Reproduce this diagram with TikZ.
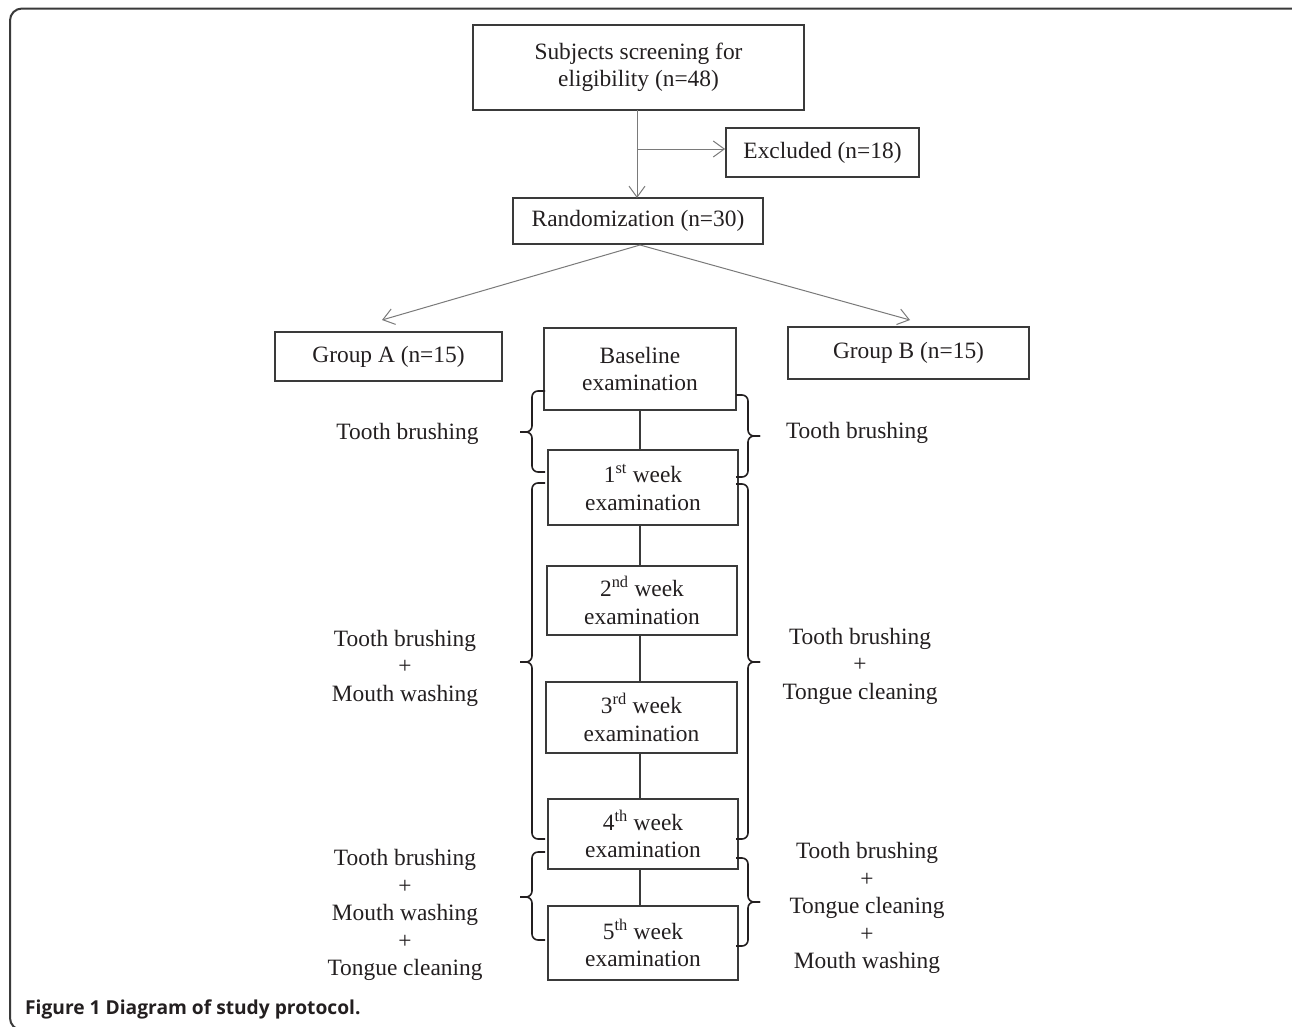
\documentclass[tikz,border=0pt]{standalone}
\usepackage{fontspec}
\setmainfont{Liberation Serif}
\newfontfamily\capfont{Open Sans}
\usetikzlibrary{arrows.meta,calc}
\definecolor{txt}{HTML}{231F20}
\definecolor{boxc}{HTML}{3A3A3A}
\definecolor{arrc}{HTML}{7A7A7A}
\tikzset{
  every node/.style={text=txt},
  mainfont/.style={font=\fontsize{23.4}{27.5}\selectfont},
  box/.style={draw=boxc, line width=1.2pt, mainfont, align=center, inner sep=0pt},
  boxb/.style={box, line width=1.8pt},
  lbl/.style={mainfont, align=center, inner sep=0pt},
  arr/.style={draw=arrc, line width=1pt, -{Straight Barb[length=11pt,width=16pt,line width=1pt]}},
  link/.style={draw=boxc, line width=1.1pt},
  bracestyle/.style={draw=txt, line width=1.6pt, rounded corners=6pt},
}
\newcommand{\braceLeft}[3]{%
  \draw[bracestyle] (545,#1) -- (532,#1) -- (532,#3) -- (520,#3);
  \draw[bracestyle] (520,#3) -- (532,#3) -- (532,#2) -- (545,#2);}
\newcommand{\braceRight}[3]{%
  \draw[bracestyle] (736,#1) -- (748,#1) -- (748,#3) -- (760,#3);
  \draw[bracestyle] (760,#3) -- (748,#3) -- (748,#2) -- (736,#2);}
\begin{document}
\begin{tikzpicture}[x=1pt,y=-1pt]
\useasboundingbox (0,0) rectangle (1292,1026);
\fill[white] (0,0) rectangle (1292,1026);
\begin{scope}
\clip (0,0) rectangle (1292,1026);
\draw[draw=boxc, line width=2pt, rounded corners=12pt] (10,8.5) rectangle (1305,1030);
\end{scope}

% boxes
\node[box, minimum width=331pt, minimum height=85pt] (scr) at (638.5,67.5) {Subjects screening for\\eligibility (n=48)};
\node[boxb, minimum width=193pt, minimum height=49pt] (exc) at (822.5,152.5) {Excluded (n=18)};
\node[box, minimum width=250pt, minimum height=46pt] (rand) at (638,221) {Randomization (n=30)};
\node[box, minimum width=227pt, minimum height=49pt] (ga) at (388.5,356.5) {Group A (n=15)};
\node[boxb, minimum width=241pt, minimum height=52pt] (gb) at (908.5,353) {Group B (n=15)};
\node[box, minimum width=192pt, minimum height=82pt] (base) at (640,369) {Baseline\\examination};
\node[box, minimum width=190pt, minimum height=75pt] (w1) at (643,487.5) {1\textsuperscript{st} week\\examination};
\node[box, minimum width=190pt, minimum height=69pt] (w2) at (642,600.5) {2\textsuperscript{nd} week\\examination};
\node[box, minimum width=191pt, minimum height=71pt] (w3) at (641.5,717.5) {3\textsuperscript{rd} week\\examination};
\node[box, minimum width=190pt, minimum height=70pt] (w4) at (643,834) {4\textsuperscript{th} week\\examination};
\node[box, minimum width=190pt, minimum height=74pt] (w5) at (643,943) {5\textsuperscript{th} week\\examination};

% side labels
\node[lbl] (l1) at (407.5,434) {Tooth brushing};
\node[lbl] (l2) at (405,668) {Tooth brushing\\+\\Mouth washing};
\node[lbl] (l3) at (405,915) {Tooth brushing\\+\\Mouth washing\\+\\Tongue cleaning};
\node[lbl] (r1) at (857,433) {Tooth brushing};
\node[lbl] (r2) at (860,666) {Tooth brushing\\+\\Tongue cleaning};
\node[lbl] (r3) at (867,908) {Tooth brushing\\+\\Tongue cleaning\\+\\Mouth washing};

% connectors
\coordinate (top) at (637,110);
\coordinate (br) at (637,149);
\coordinate (rtop) at (637,198);
\coordinate (rbot) at (640,245);
\coordinate (tipA) at (382,320);
\coordinate (tipB) at (910,320);
\draw[arr] (top) -- (rtop);
\draw[arr] (br) -- (br -| exc.west);
\draw[arr] (rbot) -- (tipA);
\draw[arr] (rbot) -- (tipB);

\draw[link] (640,410) coordinate (b0) -- (b0 |- w1.north);
\draw[link] (640,525) coordinate (b1) -- (b1 |- w2.north);
\draw[link] (640,635) coordinate (b2) -- (b2 |- w3.north);
\draw[link] (640,753) coordinate (b3) -- (b3 |- w4.north);
\draw[link] (640,869) coordinate (b4) -- (b4 |- w5.north);

% braces
\braceLeft{391}{472}{432}
\braceRight{395}{477}{436}
\braceLeft{483}{839}{662}
\braceRight{484}{839}{662}
\braceLeft{852}{940}{897}
\braceRight{858}{946}{902}

% caption
\node[anchor=base west, inner sep=0pt, font=\capfont\bfseries\fontsize{19.2}{21}\selectfont] (cap) at (25,1014) {Figure 1 Diagram of study protocol.};
\end{tikzpicture}
\end{document}
